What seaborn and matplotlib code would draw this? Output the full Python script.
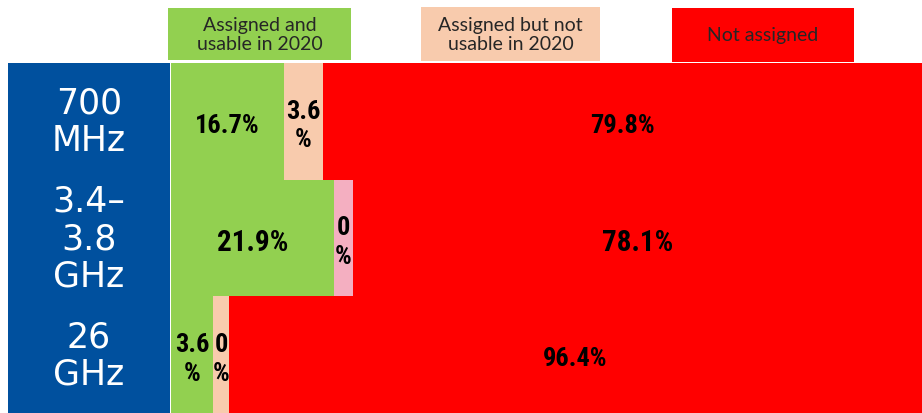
import matplotlib
matplotlib.use("Agg")
import matplotlib.pyplot as plt
from matplotlib import font_manager
from matplotlib.patches import Rectangle
import seaborn as sns
import pandas as pd
import numpy as np

# ---- data ----
bands = ["700\nMHz", "3.4–\n3.8\nGHz", "26\nGHz"]
usable = [16.7, 21.9, 3.6]            # Assigned and usable in 2020 (label, %)
not_usable = [3.6, 0.0, 0.0]          # Assigned but not usable in 2020 (label, %)
not_assigned = [79.8, 78.1, 96.4]     # Not assigned (label, %)
# displayed segment lengths (% of bar length)
usable_len = [15.0, 21.7, 5.6]
not_usable_len = [5.2, 2.5, 2.1]
not_assigned_len = [79.8, 75.8, 92.3]
legend_labels = ["Assigned and\nusable in 2020", "Assigned but not\nusable in 2020", "Not assigned"]

# ---- style ----
sns.set_theme(style="white")
avail = {f.name for f in font_manager.fontManager.ttflist}
narrow = next((f for f in ["Liberation Sans Narrow", "Roboto Condensed", "Arial Narrow",
                           "Roboto", "Liberation Sans"] if f in avail), "DejaVu Sans")
plt.rcParams["font.family"] = ["Lato", "DejaVu Sans"]

GREEN = "#92D050"
PEACH = "#F8CBAD"
PINK = "#F4AFC1"
RED = "#FF0000"
BLUE = "#00509E"
mid_colors = [PEACH, PINK, PEACH]

W, H = 922, 413
fig = plt.figure(figsize=(W / 100, H / 100), dpi=100)
fig.patch.set_facecolor("white")

def fr(x0, y0, x1, y1):
    return [x0 / W, 1 - y1 / H, (x1 - x0) / W, (y1 - y0) / H]

ax = fig.add_axes(fr(171, 63, 922, 413))
ax_lab = fig.add_axes(fr(8, 63, 170, 413))

df = pd.DataFrame({
    "band": bands,
    "c1": np.array(usable_len),
    "c2": np.array(usable_len) + np.array(not_usable_len),
    "c3": np.array(usable_len) + np.array(not_usable_len) + np.array(not_assigned_len),
})

sns.barplot(data=df, x="c3", y="band", color=RED, width=1.0, orient="h",
            saturation=1, ax=ax, edgecolor="none", linewidth=0)
sns.barplot(data=df, x="c2", y="band", hue="band", palette=dict(zip(bands, mid_colors)),
            width=1.0, orient="h", saturation=1, ax=ax, edgecolor="none",
            linewidth=0, legend=False)
sns.barplot(data=df, x="c1", y="band", color=GREEN, width=1.0, orient="h",
            saturation=1, ax=ax, edgecolor="none", linewidth=0)

ax.set_xlim(0, 100)
ax.set_ylim(2.5, -0.5)
ax.set_axis_off()

# value labels
row_size = [19, 21, 19]
for i in range(len(bands)):
    lefts = [0, usable_len[i], usable_len[i] + not_usable_len[i]]
    lens = [usable_len[i], not_usable_len[i], not_assigned_len[i]]
    vals = [usable[i], not_usable[i], not_assigned[i]]
    for l, w, v in zip(lefts, lens, vals):
        s = f"{v:g}%"
        size = row_size[i]
        if w < 8:
            s = f"{v:g}\n%"
            size = 19
        ax.text(l + w / 2, i + 0.04, s, ha="center", va="center", fontsize=size,
                fontweight="bold", family=[narrow, "DejaVu Sans"], color="black",
                linespacing=1.25)

# band label panel
ax_lab.set_facecolor(BLUE)
ax_lab.set_xlim(0, 1)
ax_lab.set_ylim(2.5, -0.5)
ax_lab.set_xticks([])
ax_lab.set_yticks([])
for s in ax_lab.spines.values():
    s.set_visible(False)
for i, b in enumerate(bands):
    ax_lab.text(0.5, i + 0.01, b, ha="center", va="center", color="white", fontsize=25,
                family=["DejaVu Sans"], linespacing=1.13)

# legend boxes
legend_boxes = [(168, 8, 351, 60), (421, 7, 600, 61), (672, 8, 854, 62)]
for (x0, y0, x1, y1), c, t in zip(legend_boxes, [GREEN, PEACH, RED], legend_labels):
    fig.patches.append(Rectangle((x0 / W, 1 - y1 / H), (x1 - x0) / W, (y1 - y0) / H,
                                 transform=fig.transFigure, facecolor=c,
                                 edgecolor="none", zorder=0))
    fig.text((x0 + x1) / 2 / W, 1 - ((y0 + y1) / 2 + 1) / H, t, ha="center",
             va="center", fontsize=14, color="#262626", linespacing=1.1)

fig.savefig("out.png", dpi=100, facecolor="white")
